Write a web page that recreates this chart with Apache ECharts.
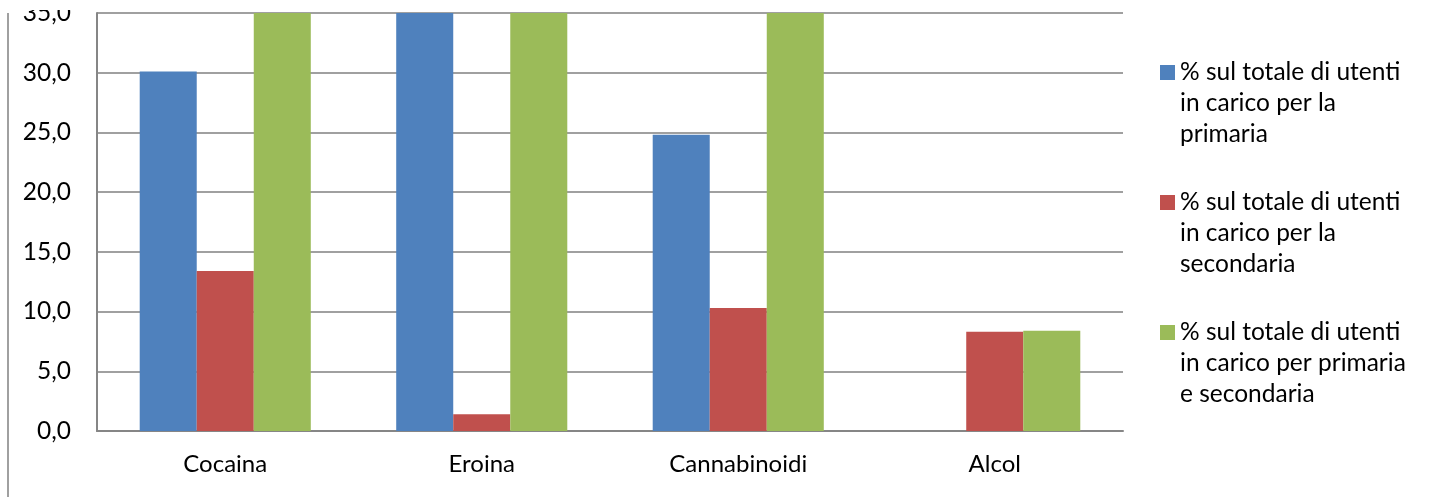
<!DOCTYPE html>
<html>
<head>
<meta charset="utf-8">
<script src="https://cdn.jsdelivr.net/npm/echarts@6/dist/echarts.min.js"></script>
<style>
  html, body { margin: 0; padding: 0; background: #fff; }
  /* the reference is cropped: everything above y=10 is blank */
  .clip { position: absolute; left: 0; top: 10px; width: 1432px; height: 488px; overflow: hidden; }
  .chart { position: absolute; left: 0; top: -10px; width: 1432px; height: 498px; }
  .frame { position: absolute; left: 7px; top: 3px; width: 0; height: 484px; border-left: 2px solid #a0a0a0; }
</style>
</head>
<body>
<div class="clip">
  <div class="chart" id="chart"></div>
  <div class="frame"></div>
</div>
<script>
const categories = ['Cocaina', 'Eroina', 'Cannabinoidi', 'Alcol']
const seriesNames = [
  '% sul totale di utenti\nin carico per la\nprimaria',
  '% sul totale di utenti\nin carico per la\nsecondaria',
  '% sul totale di utenti\nin carico per primaria\ne secondaria'
]
// bars above 35 are cut off by the axis in the original, their tops are not visible
const primaria = [30.1, 44.0, 24.8, 0]
const secondaria = [13.4, 1.4, 10.3, 8.3]
const primariaSecondaria = [43.5, 45.4, 38.1, 8.4]
const colors = ['#4F81BD', '#C0504D', '#9BBB59']

const font = 'Lato, "Liberation Sans", sans-serif'

const chart = echarts.init(document.getElementById('chart'))

// square icon sitting on the first text line (tiny points stretch the box to 3 lines)
const icon = 'path://M0,0L0.01,0L0.01,0.01Z M0,8H15V23H0Z M0,92.99L0.01,92.99L0.01,93Z'

const option = {
  animation: false,
  grid: { left: 97, right: 309, top: 13, bottom: 67 },
  legend: {
    orient: 'vertical',
    left: 1160,
    top: 57,
    padding: 0,
    itemGap: 37,
    itemWidth: 15,
    itemHeight: 93,
    icon: icon,
    data: seriesNames,
    textStyle: { fontFamily: font, fontSize: 24.5, lineHeight: 31, color: '#000' }
  },
  xAxis: {
    type: 'category',
    data: categories,
    axisLine: { lineStyle: { color: '#868686', width: 2 } },
    axisTick: { show: false },
    axisLabel: { color: '#000', fontFamily: font, fontSize: 24, margin: 21 }
  },
  yAxis: {
    type: 'value',
    min: 0,
    max: 35,
    interval: 5,
    axisLine: { show: true, lineStyle: { color: '#868686', width: 2 } },
    axisTick: { show: false },
    axisLabel: {
      color: '#000',
      fontFamily: font,
      fontSize: 24.5,
      margin: 26,
      formatter: v => v.toFixed(1).replace('.', ',')
    },
    splitLine: { lineStyle: { color: '#a0a0a0', width: 2 } }
  },
  series: [primaria, secondaria, primariaSecondaria].map((data, i) => ({
    name: seriesNames[i],
    type: 'bar',
    data: data,
    clip: true,
    barGap: '0%',
    barCategoryGap: '33.3%',
    itemStyle: { color: colors[i] }
  }))
}

chart.setOption(option)
</script>
</body>
</html>
